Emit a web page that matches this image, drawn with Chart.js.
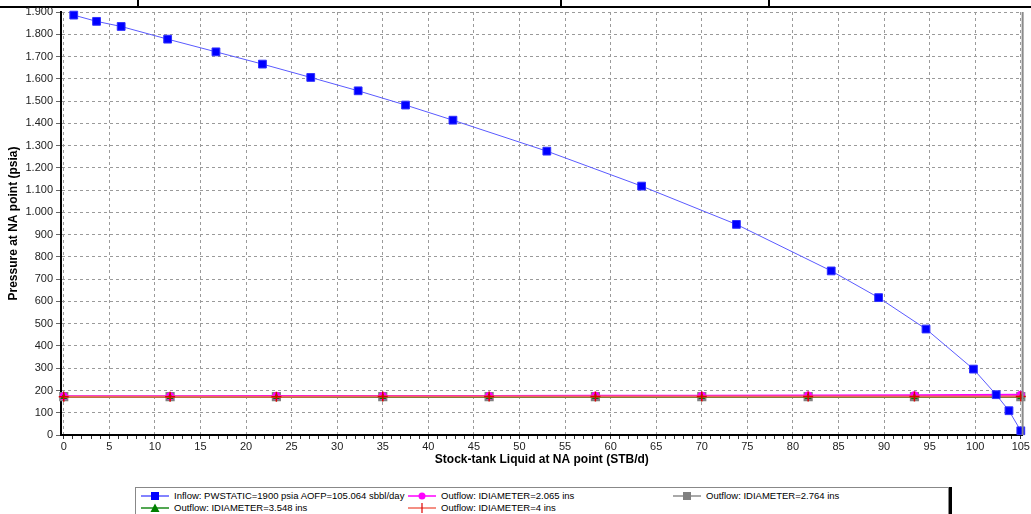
<!DOCTYPE html>
<html>
<head>
<meta charset="utf-8">
<script src="https://cdn.jsdelivr.net/npm/chart.js@4.4.1/dist/chart.umd.min.js"></script>
<style>
  body{margin:0;background:#fff;font-family:"Liberation Sans",Arial,sans-serif;}
  #wrap{position:relative;width:1031px;height:514px;overflow:hidden;}
  #chartBox{position:absolute;left:0;top:0;width:1031px;height:470px;}
  .topline{position:absolute;background:#000;}
  #legend{position:absolute;left:135px;top:487px;width:812px;height:40px;border:1px solid #888;background:#fff;box-shadow:3px 0 0 #000;}
  .lg-item{position:absolute;height:12px;font-size:9.5px;line-height:12px;color:#000;white-space:nowrap;}
  .lg-item svg{vertical-align:top;margin-right:5px;}
</style>
</head>
<body>
<div id="wrap">
  <div class="topline" style="left:0;top:6px;width:1031px;height:2px;"></div>
  <div class="topline" style="left:137px;top:0;width:2px;height:7px;"></div>
  <div class="topline" style="left:560px;top:0;width:2px;height:7px;"></div>
  <div class="topline" style="left:768px;top:0;width:2px;height:7px;"></div>
  <div id="chartBox"><canvas id="lineChart" width="1031" height="470"></canvas></div>
  <div id="legend"></div>
</div>
<script>
// values
var inflowLabel = "Inflow: PWSTATIC=1900 psia AOFP=105.064 sbbl/day";
var inflowQ = [1.1, 3.6, 6.3, 11.4, 16.7, 21.8, 27.1, 32.3, 37.5, 42.7, 53.0, 63.4, 73.8, 84.2, 89.4, 94.6, 99.8, 102.3, 103.7, 105.0];
var inflowP = [1886, 1858, 1835, 1778, 1721, 1666, 1606, 1546, 1482, 1414, 1275, 1118, 946, 737, 617, 476, 296, 181, 109, 19];

var outflowQ = [0, 11.67, 23.33, 35, 46.67, 58.33, 70, 81.67, 93.33, 105];
var outflowLabels = ["Outflow: IDIAMETER=2.065 ins", "Outflow: IDIAMETER=2.764 ins", "Outflow: IDIAMETER=3.548 ins", "Outflow: IDIAMETER=4 ins"];
var outflow2065 = [174, 174, 175, 175, 175, 176, 176, 177, 178, 181];
var outflow2764 = [172, 172, 172, 172, 172, 172, 172, 172, 172, 172];
var outflow3548 = [171, 171, 171, 171, 171, 171, 171, 171, 171, 171];
var outflow4 = [172, 172, 172, 173, 173, 173, 173, 173, 173, 173];

var xMin = 0, xMax = 105, xStep = 5;
var yMin = 0, yMax = 1900, yStep = 100;

var xTitle = "Stock-tank Liquid at NA point (STB/d)";
var yTitle = "Pressure at NA point (psia)";

function pts(xs, ys){
  var out = [];
  for(let i=0;i<xs.length;i++){
    out.push({x: xs[i], y: ys[i]});
  }
  return out;
}

function fmtThousands(v){
  if(v >= 1000){
    return Math.floor(v/1000) + '.' + String(v % 1000).padStart(3, '0');
  }
  return String(v);
}

// grey frame on the right of the plot
var frameRight = {
  id: 'frameRight',
  afterDraw: function(chart){
    var a = chart.chartArea, c = chart.ctx;
    c.save();
    c.strokeStyle = '#8a8a8a';
    c.lineWidth = 2;
    c.beginPath();
    c.moveTo(a.right, a.top);
    c.lineTo(a.right, a.bottom);
    c.stroke();
    c.restore();
  }
};

var font = "'Liberation Sans', Arial, sans-serif";

//line
var ctxL = document.getElementById("lineChart").getContext('2d');
var myLineChart = new Chart(ctxL, {
  type: 'line',
  data: {
    datasets: [{
      label: inflowLabel,
      data: pts(inflowQ, inflowP),
      borderColor: '#5a5aff',
      backgroundColor: '#0000ff',
      pointBorderColor: '#3030ff',
      borderWidth: 1,
      pointStyle: 'rect',
      pointRadius: 5.5,
      pointBorderWidth: 1,
      legendMarker: 'square',
      order: 0
    },
    {
      label: outflowLabels[0],
      data: pts(outflowQ, outflow2065),
      borderColor: '#ff00ff',
      backgroundColor: '#ff00ff',
      borderWidth: 2,
      pointStyle: 'circle',
      pointRadius: 3,
      legendMarker: 'circle',
      order: 4
    },
    {
      label: outflowLabels[1],
      data: pts(outflowQ, outflow2764),
      borderColor: '#8c8c8c',
      backgroundColor: '#808080',
      borderWidth: 2,
      pointStyle: 'rect',
      pointRadius: 6.5,
      pointBorderWidth: 0,
      legendMarker: 'square',
      order: 5
    },
    {
      label: outflowLabels[2],
      data: pts(outflowQ, outflow3548),
      borderColor: '#1a8a1a',
      backgroundColor: '#008000',
      borderWidth: 2,
      pointStyle: 'triangle',
      pointRadius: 4,
      pointBorderWidth: 0,
      legendMarker: 'triangle',
      order: 2
    },
    {
      label: outflowLabels[3],
      data: pts(outflowQ, outflow4),
      borderColor: '#f06a5a',
      backgroundColor: '#dd0000',
      pointBorderColor: '#dd0000',
      borderWidth: 2,
      pointStyle: 'cross',
      pointRadius: 5,
      pointBorderWidth: 1.5,
      legendMarker: 'plus',
      order: 1
    }]
  },
  options: {
    responsive: false,
    animation: false,
    clip: 8,
    layout: {padding: {top: 12, right: 8, left: 0, bottom: 0}},
    plugins: {
      legend: {display: false},
      tooltip: {enabled: false}
    },
    scales: {
      x: {
        type: 'linear',
        min: -0.3,
        max: 105.2,
        afterBuildTicks: function(scale){
          var t = [];
          for(let v=xMin; v<=xMax; v++) t.push({value: v});
          scale.ticks = t;
        },
        afterFit: function(scale){ scale.height = 35; },
        ticks: {
          autoSkip: false,
          maxRotation: 0,
          padding: 1,
          color: '#222',
          font: {family: font, size: 11},
          callback: function(v){ return v % xStep === 0 ? String(v) : ''; }
        },
        grid: {
          color: function(ctx){ return (ctx.tick && ctx.tick.value % xStep === 0) ? '#9a9a9a' : 'rgba(0,0,0,0)'; },
          tickColor: '#333',
          tickLength: 4,
          lineWidth: 1
        },
        border: {color: '#000', width: 2, dash: [3, 3]},
        title: {
          display: true,
          text: xTitle,
          color: '#000',
          font: {family: font, size: 12, weight: 'bold'},
          padding: {top: 0, bottom: 3}
        }
      },
      y: {
        min: yMin,
        max: yMax,
        afterFit: function(scale){ scale.width = 61; },
        ticks: {
          stepSize: yStep,
          padding: 3,
          color: '#222',
          font: {family: font, size: 11},
          callback: function(v){ return fmtThousands(v); }
        },
        grid: {
          color: '#9a9a9a',
          tickColor: '#666',
          tickLength: 5,
          lineWidth: 1
        },
        border: {color: '#000', width: 2, dash: [3, 3]},
        title: {
          display: true,
          text: yTitle,
          color: '#000',
          font: {family: font, size: 12, weight: 'bold'},
          padding: {top: 6, bottom: 0}
        }
      }
    }
  },
  plugins: [frameRight]
});

// legend built from the datasets
function markerSvg(ds){
  var line = '<line x1="0" y1="6" x2="28" y2="6" stroke="' + ds.borderColor + '" stroke-width="1.5"/>';
  var c = ds.backgroundColor, m = '';
  if(ds.legendMarker === 'square') m = '<rect x="10" y="2" width="8" height="8" fill="' + c + '"/>';
  if(ds.legendMarker === 'circle') m = '<circle cx="14" cy="6" r="3.5" fill="' + c + '"/>';
  if(ds.legendMarker === 'triangle') m = '<polygon points="14,1.5 18.5,10 9.5,10" fill="' + c + '"/>';
  if(ds.legendMarker === 'plus') m = '<line x1="14" y1="1" x2="14" y2="11" stroke="' + c + '" stroke-width="1.2"/>';
  return '<svg width="28" height="12">' + line + m + '</svg>';
}

function buildLegend(){
  var pos = [[5, 2], [272, 2], [537, 2], [5, 14], [272, 14]];
  var html = '';
  myLineChart.data.datasets.forEach(function(ds, i){
    html += '<div class="lg-item" style="left:' + pos[i][0] + 'px;top:' + pos[i][1] + 'px;">' + markerSvg(ds) + ds.label + '</div>';
  });
  document.getElementById('legend').innerHTML = html;
}

buildLegend();
</script>
</body>
</html>
